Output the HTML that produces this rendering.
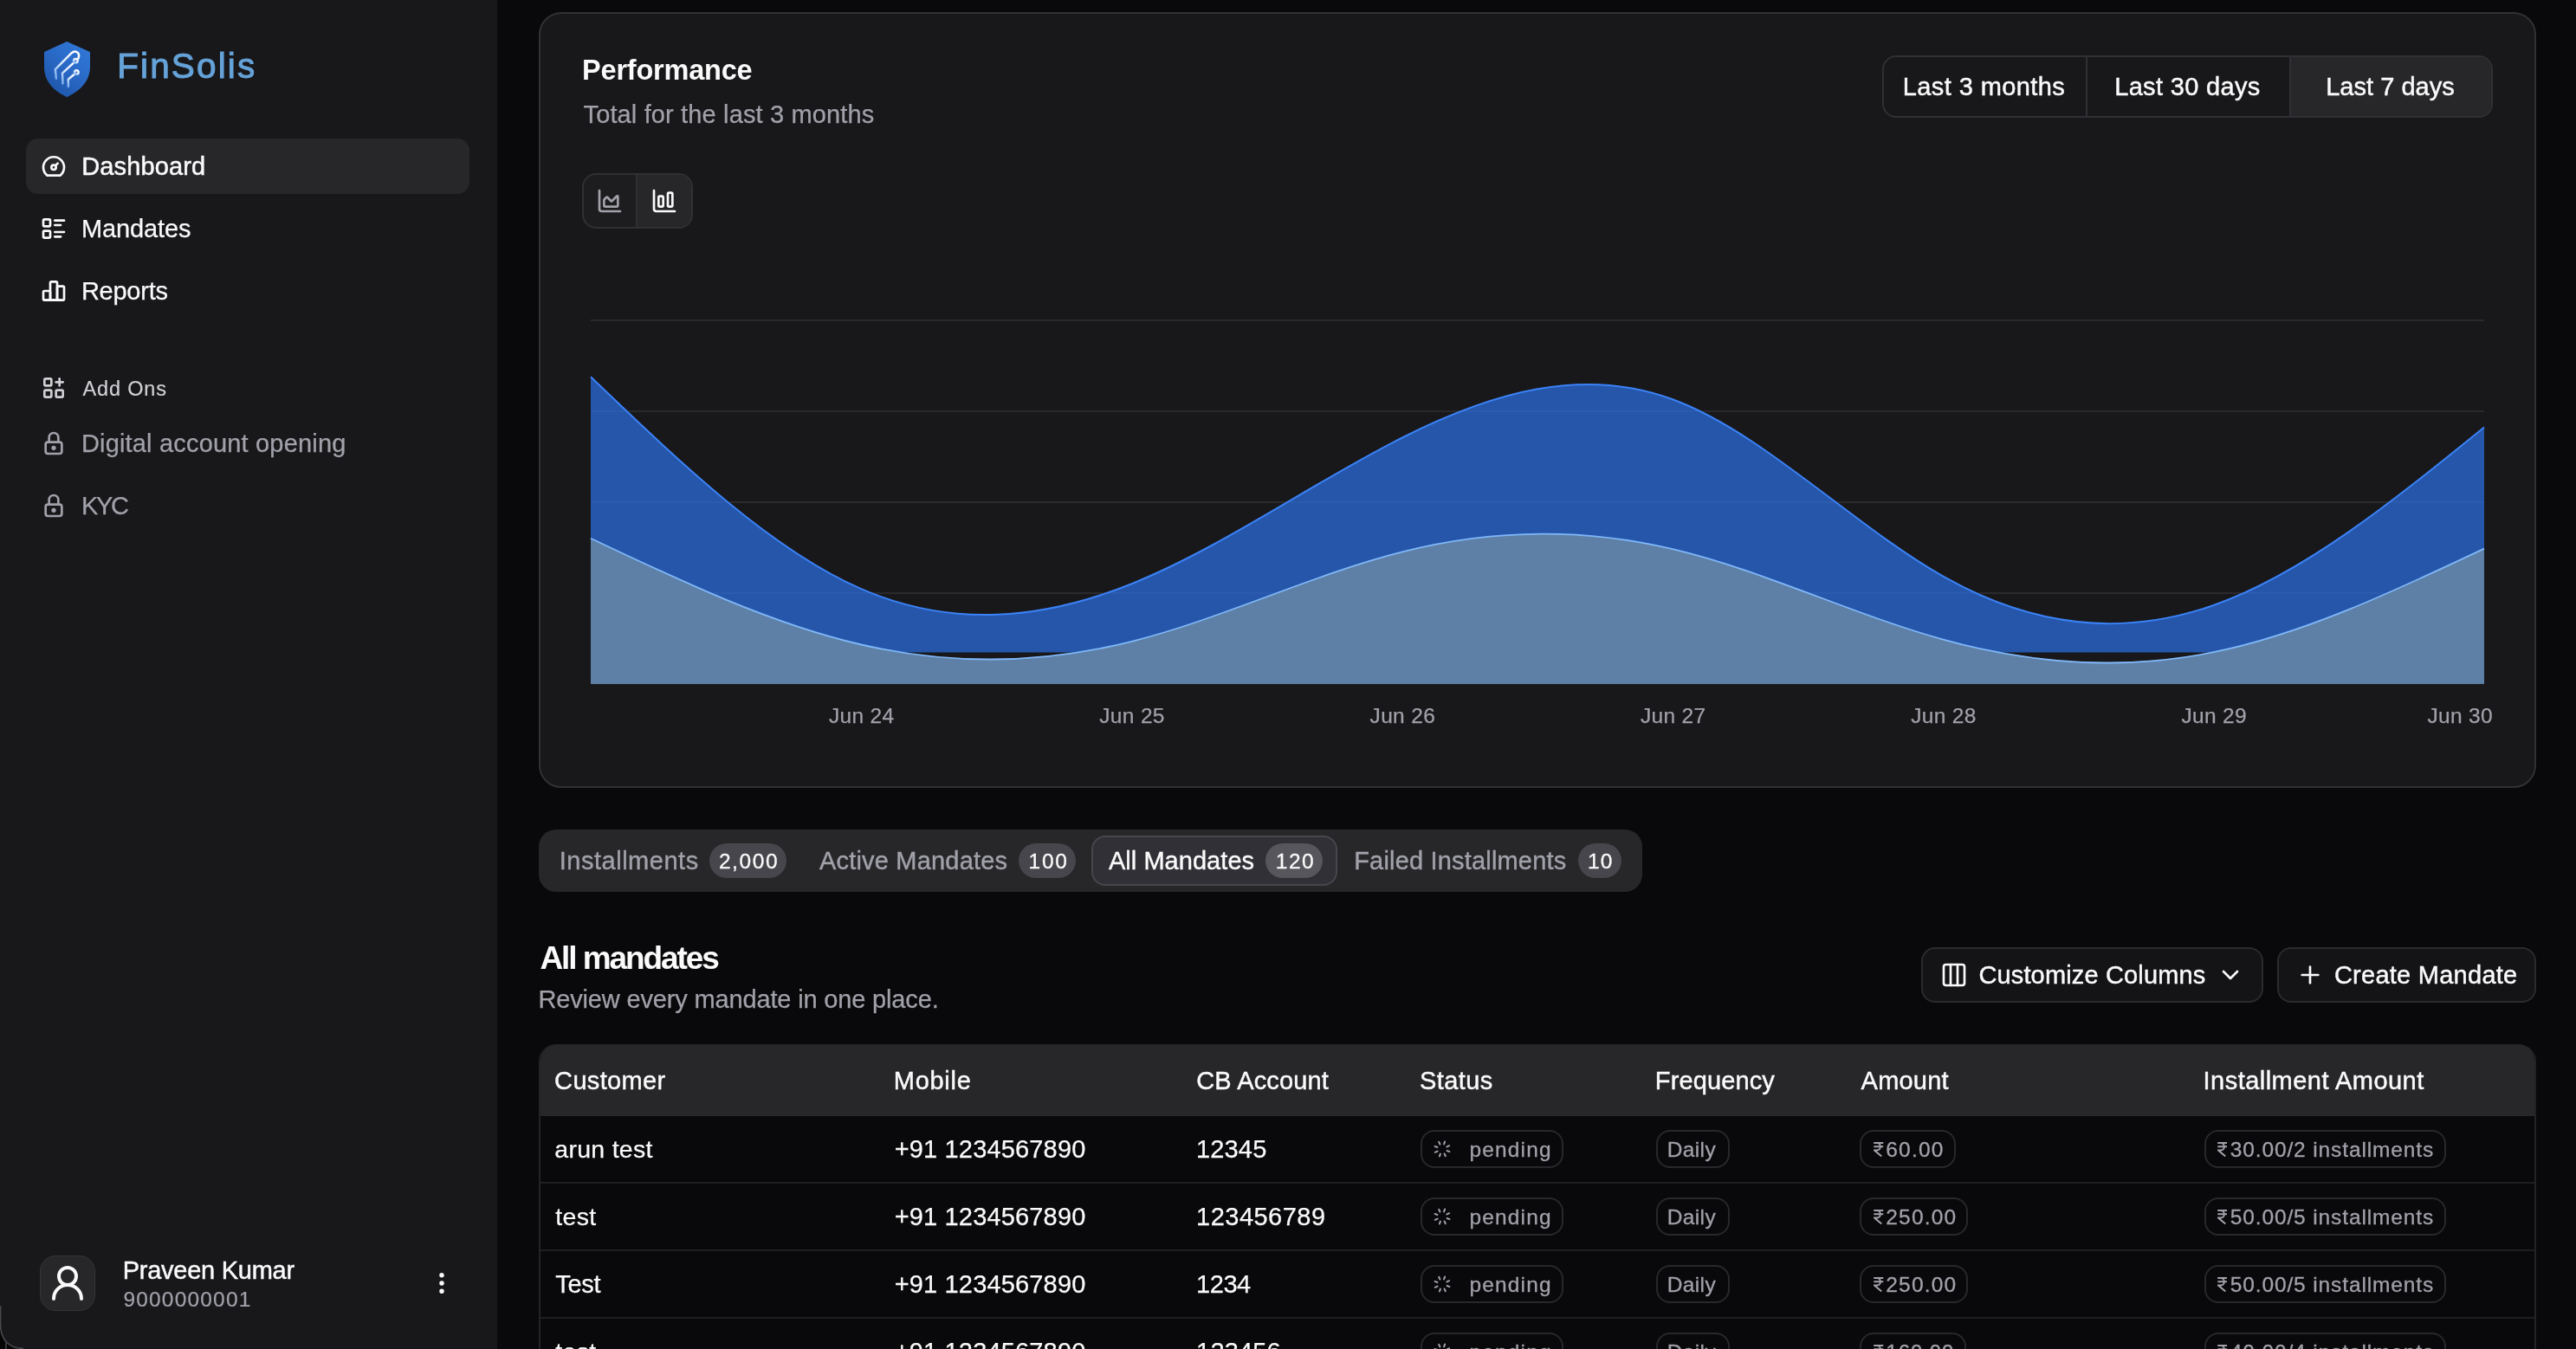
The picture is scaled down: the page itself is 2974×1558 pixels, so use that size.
<!DOCTYPE html>
<html><head><meta charset="utf-8"><title>FinSolis Dashboard</title>
<style>
html,body{margin:0;padding:0;background:#09090b;}
body{width:2974px;height:1558px;overflow:hidden;position:relative;font-family:"Liberation Sans",sans-serif;}
#root{position:absolute;left:0;top:0;width:2974px;height:1558px;will-change:transform;}
.abs{position:absolute;}
.t{position:absolute;white-space:nowrap;line-height:1;}
.pill{border-radius:16px;box-sizing:border-box;border:2px solid #28282c;background:#09090b;}
</style></head><body>
<div id="root">
<div class="abs" style="left:0;top:0;width:574px;height:1558px;background:#18181b"></div>
<svg class="abs" style="left:48px;top:44px" width="60" height="72" viewBox="0 0 60 72">
<defs><linearGradient id="lg" x1="0.9" y1="0" x2="0.2" y2="1"><stop offset="0" stop-color="#3179d8"/><stop offset="0.45" stop-color="#2a6bc9"/><stop offset="1" stop-color="#1d54a6"/></linearGradient>
<linearGradient id="lw" x1="0.9" y1="0" x2="0.1" y2="1"><stop offset="0" stop-color="#ffffff"/><stop offset="0.6" stop-color="#d6e6fa"/><stop offset="1" stop-color="#7fb0ee"/></linearGradient></defs>
<path d="M29.2 4 L56 16 L56 33 C56 50 44 61 29.2 68.2 C14 61 3 50 3 33 L3 16 Z" fill="url(#lg)"/>
<g fill="none" stroke="url(#lw)" stroke-width="2.5" stroke-linecap="round" stroke-linejoin="round">
<path d="M16.9 46.6 L15.8 36.1 L34.4 17.4 C38 14 43.4 15.5 43.1 20.9 L42.4 23.6"/>
<path d="M24.5 52.4 L23.9 40.7 L37.2 28.4"/>
<path d="M30.9 55.9 L30.7 47.7 L38.4 41.2"/>
<circle cx="39.3" cy="26.2" r="2.3"/><circle cx="40.3" cy="39.5" r="2.3"/>
</g></svg>
<div class="t" style="left:135.2px;top:56px;font-size:40.5px;color:#65a2d8;font-weight:400;letter-spacing:2.13px;-webkit-text-stroke:1.0px #65a2d8;">FinSolis</div>
<div class="abs" style="left:30px;top:160px;width:512px;height:64px;border-radius:14px;background:#27272a"></div>
<svg class="abs" style="left:46px;top:176px" width="32" height="32" viewBox="0 0 24 24" fill="none" stroke="#fafafa" stroke-width="2" stroke-linecap="round" stroke-linejoin="round"><path d="M12 13m-2 0a2 2 0 1 0 4 0a2 2 0 1 0 -4 0"/><path d="M13.45 11.55l2.05 -2.05"/><path d="M6.4 20a9 9 0 1 1 11.2 0z"/></svg>
<div class="t" style="left:94.2px;top:178px;font-size:29px;color:#fafafa;font-weight:400;letter-spacing:0.14px;-webkit-text-stroke:0.5px #fafafa;">Dashboard</div>
<svg class="abs" style="left:46px;top:248px" width="32" height="32" viewBox="0 0 24 24" fill="none" stroke="#fafafa" stroke-width="2" stroke-linecap="round" stroke-linejoin="round"><path d="M13 5h8"/><path d="M13 9h5"/><path d="M13 15h8"/><path d="M13 19h5"/><path d="M3 5a1 1 0 0 1 1 -1h4a1 1 0 0 1 1 1v4a1 1 0 0 1 -1 1h-4a1 1 0 0 1 -1 -1z"/><path d="M3 15a1 1 0 0 1 1 -1h4a1 1 0 0 1 1 1v4a1 1 0 0 1 -1 1h-4a1 1 0 0 1 -1 -1z"/></svg>
<div class="t" style="left:93.9px;top:250px;font-size:29px;color:#fafafa;font-weight:400;letter-spacing:-0.12px;-webkit-text-stroke:0.25px #fafafa;">Mandates</div>
<svg class="abs" style="left:46px;top:320px" width="32" height="32" viewBox="0 0 24 24" fill="none" stroke="#fafafa" stroke-width="2" stroke-linecap="round" stroke-linejoin="round"><path d="M3 13a1 1 0 0 1 1 -1h4a1 1 0 0 1 1 1v6a1 1 0 0 1 -1 1h-4a1 1 0 0 1 -1 -1z"/><path d="M15 9a1 1 0 0 1 1 -1h4a1 1 0 0 1 1 1v10a1 1 0 0 1 -1 1h-4a1 1 0 0 1 -1 -1z"/><path d="M9 5a1 1 0 0 1 1 -1h4a1 1 0 0 1 1 1v14a1 1 0 0 1 -1 1h-4a1 1 0 0 1 -1 -1z"/><path d="M4 20h14"/></svg>
<div class="t" style="left:93.9px;top:322px;font-size:29px;color:#fafafa;font-weight:400;letter-spacing:-0.25px;-webkit-text-stroke:0.25px #fafafa;">Reports</div>
<svg class="abs" style="left:46px;top:432px" width="32" height="32" viewBox="0 0 24 24" fill="none" stroke="#d0d0d4" stroke-width="2" stroke-linecap="round" stroke-linejoin="round"><path d="M4 5a1 1 0 0 1 1 -1h4a1 1 0 0 1 1 1v4a1 1 0 0 1 -1 1h-4a1 1 0 0 1 -1 -1z"/><path d="M4 15a1 1 0 0 1 1 -1h4a1 1 0 0 1 1 1v4a1 1 0 0 1 -1 1h-4a1 1 0 0 1 -1 -1z"/><path d="M14 15a1 1 0 0 1 1 -1h4a1 1 0 0 1 1 1v4a1 1 0 0 1 -1 1h-4a1 1 0 0 1 -1 -1z"/><path d="M14 7l6 0"/><path d="M17 4l0 6"/></svg>
<div class="t" style="left:95.6px;top:438px;font-size:23.5px;color:#d0d0d4;font-weight:400;letter-spacing:0.83px;-webkit-text-stroke:0.2px #d0d0d4;">Add Ons</div>
<svg class="abs" style="left:46px;top:495.5px" width="32" height="32" viewBox="0 0 24 24" fill="none" stroke="#a1a1aa" stroke-width="2" stroke-linecap="round" stroke-linejoin="round"><path d="M5 13a2 2 0 0 1 2 -2h10a2 2 0 0 1 2 2v6a2 2 0 0 1 -2 2h-10a2 2 0 0 1 -2 -2v-6z"/><path d="M11 16a1 1 0 1 0 2 0a1 1 0 0 0 -2 0"/><path d="M8 11v-4a4 4 0 1 1 8 0v4"/></svg>
<div class="t" style="left:93.9px;top:498px;font-size:29px;color:#a1a1aa;font-weight:400;letter-spacing:0.18px;-webkit-text-stroke:0.25px #a1a1aa;">Digital account opening</div>
<svg class="abs" style="left:46px;top:567.5px" width="32" height="32" viewBox="0 0 24 24" fill="none" stroke="#a1a1aa" stroke-width="2" stroke-linecap="round" stroke-linejoin="round"><path d="M5 13a2 2 0 0 1 2 -2h10a2 2 0 0 1 2 2v6a2 2 0 0 1 -2 2h-10a2 2 0 0 1 -2 -2v-6z"/><path d="M11 16a1 1 0 1 0 2 0a1 1 0 0 0 -2 0"/><path d="M8 11v-4a4 4 0 1 1 8 0v4"/></svg>
<div class="t" style="left:93.9px;top:570px;font-size:29px;color:#a1a1aa;font-weight:400;letter-spacing:-2.27px;-webkit-text-stroke:0.25px #a1a1aa;">KYC</div>
<div class="abs" style="left:46px;top:1450px;width:64px;height:64px;border-radius:18px;background:#27272a;box-sizing:border-box;border:1.5px solid #34343a"></div>
<svg class="abs" style="left:54px;top:1458px" width="48" height="48" viewBox="0 0 24 24" fill="none" stroke="#fafafa" stroke-width="2" stroke-linecap="round" stroke-linejoin="round"><circle cx="12" cy="8" r="5"/><path d="M20 21a8 8 0 0 0-16 0"/></svg>
<div class="t" style="left:141.7px;top:1453px;font-size:29px;color:#fafafa;font-weight:400;letter-spacing:-0.26px;-webkit-text-stroke:0.45px #fafafa;">Praveen Kumar</div>
<div class="t" style="left:142.4px;top:1489px;font-size:24.5px;color:#a1a1aa;font-weight:400;letter-spacing:1.19px;-webkit-text-stroke:0.2px #a1a1aa;">9000000001</div>
<svg class="abs" style="left:494px;top:1466px" width="32" height="32" viewBox="0 0 24 24" fill="none" stroke="#fafafa" stroke-width="2.1" stroke-linecap="round" stroke-linejoin="round"><path d="M12 12m-1 0a1 1 0 1 0 2 0a1 1 0 1 0 -2 0"/><path d="M12 19m-1 0a1 1 0 1 0 2 0a1 1 0 1 0 -2 0"/><path d="M12 5m-1 0a1 1 0 1 0 2 0a1 1 0 1 0 -2 0"/></svg>
<div class="abs" style="left:622px;top:14px;width:2306px;height:896px;border-radius:26px;background:#18181b;box-sizing:border-box;border:2px solid #313135"></div>
<div class="t" style="left:672.1px;top:65px;font-size:32.5px;color:#fafafa;font-weight:700;letter-spacing:-0.21px;">Performance</div>
<div class="t" style="left:673.5px;top:118px;font-size:29px;color:#a1a1aa;font-weight:400;letter-spacing:0.14px;-webkit-text-stroke:0.25px #a1a1aa;">Total for the last 3 months</div>
<div class="abs" style="left:672px;top:200px;width:128px;height:64px;border-radius:16px;box-sizing:border-box;border:2px solid #303034;background:#1d1d20;overflow:hidden"><div style="position:absolute;left:60px;top:0;width:2px;height:64px;background:#303034"></div><div style="position:absolute;left:62px;top:0;width:64px;height:64px;background:#27272a"></div></div>
<svg class="abs" style="left:688px;top:216px" width="32" height="32" viewBox="0 0 24 24" fill="none" stroke="#a1a1aa" stroke-width="2" stroke-linecap="round" stroke-linejoin="round"><path d="M3 3v16a2 2 0 0 0 2 2h16"/><path d="M7 11.207a.5.5 0 0 1 .146-.353l2-2a.5.5 0 0 1 .708 0l3.292 3.292a.5.5 0 0 0 .708 0l4.292-4.292a.5.5 0 0 1 .854.353V16a1 1 0 0 1-1 1H8a1 1 0 0 1-1-1z"/></svg>
<svg class="abs" style="left:751px;top:216px" width="32" height="32" viewBox="0 0 24 24" fill="none" stroke="#fafafa" stroke-width="2" stroke-linecap="round" stroke-linejoin="round"><path d="M3 3v16a2 2 0 0 0 2 2h16"/><rect x="15" y="5" width="4" height="12" rx="1"/><rect x="7" y="8" width="4" height="9" rx="1"/></svg>
<div class="abs" style="left:2173px;top:64px;width:705px;height:72px;border-radius:16px;box-sizing:border-box;border:2px solid #303034;background:#18181b;overflow:hidden"><div style="position:absolute;left:233px;top:0;width:2px;height:72px;background:#303034"></div><div style="position:absolute;left:468px;top:0;width:2px;height:72px;background:#303034"></div><div style="position:absolute;left:470px;top:0;width:235px;height:72px;background:#27272a"></div></div>
<div class="t" style="left:2196.8px;top:86px;font-size:29px;color:#fafafa;font-weight:400;letter-spacing:0.41px;-webkit-text-stroke:0.45px #fafafa;">Last 3 months</div>
<div class="t" style="left:2441.2px;top:86px;font-size:29px;color:#fafafa;font-weight:400;letter-spacing:0.33px;-webkit-text-stroke:0.45px #fafafa;">Last 30 days</div>
<div class="t" style="left:2685.2px;top:86px;font-size:29px;color:#fafafa;font-weight:400;letter-spacing:0.03px;-webkit-text-stroke:0.45px #fafafa;">Last 7 days</div>
<svg class="abs" style="left:0;top:0" width="2974" height="1558" viewBox="0 0 2974 1558">
<g stroke="#2a2a2e" stroke-width="2">
<line x1="682" x2="2868" y1="370" y2="370"/><line x1="682" x2="2868" y1="475" y2="475"/><line x1="682" x2="2868" y1="580" y2="580"/><line x1="682" x2="2868" y1="685" y2="685"/>
</g>
<path d="M682.0,435.3C786.1,535.1,890.2,634.9,994.3,680.1C1098.4,725.3,1202.5,716.1,1306.6,674.2C1410.7,632.3,1514.8,557.9,1618.9,505.5C1723.0,453.1,1827.0,422.9,1931.1,461.3C2035.2,499.7,2139.3,606.7,2243.4,665.7C2347.5,724.7,2451.6,735.7,2555.7,699.0C2659.8,662.3,2763.9,577.9,2868.0,493.5L2868,753.6L682,753.6Z" fill="#2556aa"/>
<clipPath id="ca"><path d="M682.0,435.3C786.1,535.1,890.2,634.9,994.3,680.1C1098.4,725.3,1202.5,716.1,1306.6,674.2C1410.7,632.3,1514.8,557.9,1618.9,505.5C1723.0,453.1,1827.0,422.9,1931.1,461.3C2035.2,499.7,2139.3,606.7,2243.4,665.7C2347.5,724.7,2451.6,735.7,2555.7,699.0C2659.8,662.3,2763.9,577.9,2868.0,493.5L2868,753.6L682,753.6Z"/></clipPath>
<g stroke="#3a66b4" stroke-width="1.5" opacity="0.55" clip-path="url(#ca)"><line x1="682" x2="2868" y1="475" y2="475"/><line x1="682" x2="2868" y1="580" y2="580"/><line x1="682" x2="2868" y1="685" y2="685"/></g>
<path d="M682.0,435.3C786.1,535.1,890.2,634.9,994.3,680.1C1098.4,725.3,1202.5,716.1,1306.6,674.2C1410.7,632.3,1514.8,557.9,1618.9,505.5C1723.0,453.1,1827.0,422.9,1931.1,461.3C2035.2,499.7,2139.3,606.7,2243.4,665.7C2347.5,724.7,2451.6,735.7,2555.7,699.0C2659.8,662.3,2763.9,577.9,2868.0,493.5" fill="none" stroke="#3b82f6" stroke-width="2"/>
<path d="M682.0,621.7C786.1,671.1,890.2,720.5,994.3,744.5C1098.4,768.5,1202.5,767.0,1306.6,740.8C1410.7,714.6,1514.8,663.7,1618.9,637.4C1723.0,611.1,1827.0,609.6,1931.1,634.2C2035.2,658.8,2139.3,709.7,2243.4,738.6C2347.5,767.5,2451.6,774.4,2555.7,753.2C2659.8,732.0,2763.9,682.8,2868.0,633.6L2868,790L682,790Z" fill="#5e80a7"/>
<path d="M682.0,621.7C786.1,671.1,890.2,720.5,994.3,744.5C1098.4,768.5,1202.5,767.0,1306.6,740.8C1410.7,714.6,1514.8,663.7,1618.9,637.4C1723.0,611.1,1827.0,609.6,1931.1,634.2C2035.2,658.8,2139.3,709.7,2243.4,738.6C2347.5,767.5,2451.6,774.4,2555.7,753.2C2659.8,732.0,2763.9,682.8,2868.0,633.6" fill="none" stroke="#80b8f9" stroke-width="1.8"/>
</svg>
<div class="t" style="left:957.0px;top:815px;font-size:24.5px;color:#a1a1aa;font-weight:400;letter-spacing:0.32px;-webkit-text-stroke:0.25px #a1a1aa;">Jun 24</div>
<div class="t" style="left:1269.3px;top:815px;font-size:24.5px;color:#a1a1aa;font-weight:400;letter-spacing:0.32px;-webkit-text-stroke:0.25px #a1a1aa;">Jun 25</div>
<div class="t" style="left:1581.6px;top:815px;font-size:24.5px;color:#a1a1aa;font-weight:400;letter-spacing:0.32px;-webkit-text-stroke:0.25px #a1a1aa;">Jun 26</div>
<div class="t" style="left:1893.9px;top:815px;font-size:24.5px;color:#a1a1aa;font-weight:400;letter-spacing:0.32px;-webkit-text-stroke:0.25px #a1a1aa;">Jun 27</div>
<div class="t" style="left:2206.2px;top:815px;font-size:24.5px;color:#a1a1aa;font-weight:400;letter-spacing:0.32px;-webkit-text-stroke:0.25px #a1a1aa;">Jun 28</div>
<div class="t" style="left:2518.4px;top:815px;font-size:24.5px;color:#a1a1aa;font-weight:400;letter-spacing:0.32px;-webkit-text-stroke:0.25px #a1a1aa;">Jun 29</div>
<div class="t" style="left:2802.4px;top:815px;font-size:24.5px;color:#a1a1aa;font-weight:400;letter-spacing:0.32px;-webkit-text-stroke:0.25px #a1a1aa;">Jun 30</div>
<div class="abs" style="left:622px;top:958px;width:1274px;height:71.5px;border-radius:20px;background:#27272a"></div>
<div class="abs" style="left:1260px;top:965px;width:284px;height:58px;border-radius:16px;background:#303036;box-sizing:border-box;border:2px solid #46464c"></div>
<div class="t" style="left:645.8px;top:980px;font-size:29px;color:#a1a1aa;font-weight:400;letter-spacing:0.51px;-webkit-text-stroke:0.4px #a1a1aa;">Installments</div>
<div class="abs" style="left:819px;top:974px;width:89px;height:40px;border-radius:20px;background:#46464c"></div><div class="t" style="left:829.9px;top:983px;font-size:24.5px;color:#fafafa;font-weight:400;letter-spacing:1.58px;-webkit-text-stroke:0.3px #fafafa;">2,000</div>
<div class="t" style="left:946.0px;top:980px;font-size:29px;color:#a1a1aa;font-weight:400;letter-spacing:0.19px;-webkit-text-stroke:0.4px #a1a1aa;">Active Mandates</div>
<div class="abs" style="left:1176px;top:974px;width:66px;height:40px;border-radius:20px;background:#46464c"></div><div class="t" style="left:1187.6px;top:983px;font-size:24.5px;color:#fafafa;font-weight:400;letter-spacing:1.72px;-webkit-text-stroke:0.3px #fafafa;">100</div>
<div class="t" style="left:1279.9px;top:980px;font-size:29px;color:#fafafa;font-weight:400;letter-spacing:0.05px;-webkit-text-stroke:0.4px #fafafa;">All Mandates</div>
<div class="abs" style="left:1461px;top:974px;width:66px;height:40px;border-radius:20px;background:#56565c"></div><div class="t" style="left:1472.8px;top:983px;font-size:24.5px;color:#fafafa;font-weight:400;letter-spacing:1.47px;-webkit-text-stroke:0.3px #fafafa;">120</div>
<div class="t" style="left:1563.2px;top:980px;font-size:29px;color:#a1a1aa;font-weight:400;letter-spacing:0.18px;-webkit-text-stroke:0.4px #a1a1aa;">Failed Installments</div>
<div class="abs" style="left:1822px;top:974px;width:50px;height:40px;border-radius:20px;background:#46464c"></div><div class="t" style="left:1833.0px;top:983px;font-size:24.5px;color:#fafafa;font-weight:400;letter-spacing:1.17px;-webkit-text-stroke:0.3px #fafafa;">10</div>
<div class="t" style="left:623.4px;top:1088px;font-size:37px;color:#fafafa;font-weight:700;letter-spacing:-2.08px;">All mandates</div>
<div class="t" style="left:621.5px;top:1140px;font-size:29px;color:#a1a1aa;font-weight:400;letter-spacing:-0.16px;-webkit-text-stroke:0.25px #a1a1aa;">Review every mandate in one place.</div>
<div class="abs" style="left:2218px;top:1094px;width:395px;height:64px;border-radius:16px;background:#141417;box-sizing:border-box;border:2px solid #2b2b2f"></div>
<svg class="abs" style="left:2240px;top:1110px" width="32" height="32" viewBox="0 0 24 24" fill="none" stroke="#fafafa" stroke-width="2" stroke-linecap="round" stroke-linejoin="round"><rect width="18" height="18" x="3" y="3" rx="2"/><path d="M9 3v18"/><path d="M15 3v18"/></svg>
<div class="t" style="left:2284.4px;top:1112px;font-size:29px;color:#fafafa;font-weight:400;letter-spacing:0.15px;-webkit-text-stroke:0.45px #fafafa;">Customize Columns</div>
<svg class="abs" style="left:2559px;top:1110px" width="32" height="32" viewBox="0 0 24 24" fill="none" stroke="#fafafa" stroke-width="2" stroke-linecap="round" stroke-linejoin="round"><path d="m6 9 6 6 6-6"/></svg>
<div class="abs" style="left:2629px;top:1094px;width:299px;height:64px;border-radius:16px;background:#141417;box-sizing:border-box;border:2px solid #2b2b2f"></div>
<svg class="abs" style="left:2651px;top:1110px" width="32" height="32" viewBox="0 0 24 24" fill="none" stroke="#fafafa" stroke-width="2" stroke-linecap="round" stroke-linejoin="round"><path d="M5 12h14"/><path d="M12 5v14"/></svg>
<div class="t" style="left:2694.9px;top:1112px;font-size:29px;color:#fafafa;font-weight:400;letter-spacing:0.26px;-webkit-text-stroke:0.45px #fafafa;">Create Mandate</div>
<div class="abs" style="left:622px;top:1206px;width:2306px;height:400px;border-radius:20px 20px 0 0;box-sizing:border-box;border:2px solid #232326;border-top:none;background:#09090b;overflow:hidden"><div style="position:absolute;left:-2px;top:0;width:2306px;height:83px;background:#27272a"></div><div style="position:absolute;left:0;top:159px;width:2306px;height:2px;background:#1f1f22"></div><div style="position:absolute;left:0;top:237px;width:2306px;height:2px;background:#1f1f22"></div><div style="position:absolute;left:0;top:315px;width:2306px;height:2px;background:#1f1f22"></div></div>
<div class="t" style="left:640.1px;top:1234px;font-size:29px;color:#fafafa;font-weight:400;letter-spacing:0.34px;-webkit-text-stroke:0.45px #fafafa;">Customer</div>
<div class="t" style="left:1031.8px;top:1234px;font-size:29px;color:#fafafa;font-weight:400;letter-spacing:0.71px;-webkit-text-stroke:0.45px #fafafa;">Mobile</div>
<div class="t" style="left:1381.2px;top:1234px;font-size:29px;color:#fafafa;font-weight:400;letter-spacing:0.12px;-webkit-text-stroke:0.45px #fafafa;">CB Account</div>
<div class="t" style="left:1639.0px;top:1234px;font-size:29px;color:#fafafa;font-weight:400;letter-spacing:0.39px;-webkit-text-stroke:0.45px #fafafa;">Status</div>
<div class="t" style="left:1910.8px;top:1234px;font-size:29px;color:#fafafa;font-weight:400;letter-spacing:0.13px;-webkit-text-stroke:0.45px #fafafa;">Frequency</div>
<div class="t" style="left:2148.6px;top:1234px;font-size:29px;color:#fafafa;font-weight:400;letter-spacing:0.21px;-webkit-text-stroke:0.45px #fafafa;">Amount</div>
<div class="t" style="left:2543.5px;top:1234px;font-size:29px;color:#fafafa;font-weight:400;letter-spacing:0.48px;-webkit-text-stroke:0.45px #fafafa;">Installment Amount</div>
<div class="t" style="left:640.3px;top:1313px;font-size:28.5px;color:#fafafa;font-weight:400;letter-spacing:0.28px;-webkit-text-stroke:0.25px #fafafa;">arun test</div>
<div class="t" style="left:1032.7px;top:1313px;font-size:29px;color:#fafafa;font-weight:400;letter-spacing:0.16px;-webkit-text-stroke:0.25px #fafafa;">+91 1234567890</div>
<div class="t" style="left:1381.1px;top:1313px;font-size:29px;color:#fafafa;font-weight:400;letter-spacing:0.13px;-webkit-text-stroke:0.25px #fafafa;">12345</div>
<div class="abs pill" style="left:1639.5px;top:1304.5px;width:165.5px;height:44.5px"></div>
<div class="abs" style="left:1653px;top:1315px;width:24px;height:24px;transform:rotate(20deg)"><svg class="abs" style="left:0px;top:0px" width="24" height="24" viewBox="0 0 24 24" fill="none" stroke="#a1a1aa" stroke-width="2" stroke-linecap="round" stroke-linejoin="round"><path d="M12 6l0 -3"/><path d="M16.25 7.75l2.15 -2.15"/><path d="M18 12l3 0"/><path d="M16.25 16.25l2.15 2.15"/><path d="M12 18l0 3"/><path d="M7.75 16.25l-2.15 2.15"/><path d="M6 12l-3 0"/><path d="M7.75 7.75l-2.15 -2.15"/></svg></div>
<div class="t" style="left:1696.6px;top:1316px;font-size:24.5px;color:#a1a1aa;font-weight:400;letter-spacing:1.12px;-webkit-text-stroke:0.3px #a1a1aa;">pending</div>
<div class="abs pill" style="left:1911.5px;top:1304.5px;width:85px;height:44.5px"></div>
<div class="t" style="left:1924.8px;top:1316px;font-size:24.5px;color:#a1a1aa;font-weight:400;letter-spacing:0.35px;-webkit-text-stroke:0.3px #a1a1aa;">Daily</div>
<div class="abs pill" style="left:2147px;top:1304.5px;width:110.59999999999991px;height:44.5px"></div>
<svg class="abs" style="left:2163px;top:1319.4px" width="11.6" height="16.8" viewBox="0 0 70 100" preserveAspectRatio="none" fill="none" stroke="#a1a1aa" stroke-width="12" stroke-linejoin="miter"><path d="M2 6H68"/><path d="M2 31H68"/><path d="M4 6H24C55 6 55 57 24 57H7L56 98"/></svg>
<div class="t" style="left:2177.2px;top:1316px;font-size:24.5px;color:#a1a1aa;font-weight:400;letter-spacing:1.25px;-webkit-text-stroke:0.3px #a1a1aa;">60.00</div>
<div class="abs pill" style="left:2545px;top:1304.5px;width:278.5px;height:44.5px"></div>
<svg class="abs" style="left:2559.5px;top:1319.4px" width="11.6" height="16.8" viewBox="0 0 70 100" preserveAspectRatio="none" fill="none" stroke="#a1a1aa" stroke-width="12" stroke-linejoin="miter"><path d="M2 6H68"/><path d="M2 31H68"/><path d="M4 6H24C55 6 55 57 24 57H7L56 98"/></svg>
<div class="t" style="left:2574.7px;top:1316px;font-size:24.5px;color:#a1a1aa;font-weight:400;letter-spacing:0.88px;-webkit-text-stroke:0.3px #a1a1aa;">30.00/2 installments</div>
<div class="t" style="left:641.3px;top:1391px;font-size:28.5px;color:#fafafa;font-weight:400;letter-spacing:0.31px;-webkit-text-stroke:0.25px #fafafa;">test</div>
<div class="t" style="left:1032.7px;top:1391px;font-size:29px;color:#fafafa;font-weight:400;letter-spacing:0.16px;-webkit-text-stroke:0.25px #fafafa;">+91 1234567890</div>
<div class="t" style="left:1381.1px;top:1391px;font-size:29px;color:#fafafa;font-weight:400;letter-spacing:0.47px;-webkit-text-stroke:0.25px #fafafa;">123456789</div>
<div class="abs pill" style="left:1639.5px;top:1382.5px;width:165.5px;height:44.5px"></div>
<div class="abs" style="left:1653px;top:1393px;width:24px;height:24px;transform:rotate(20deg)"><svg class="abs" style="left:0px;top:0px" width="24" height="24" viewBox="0 0 24 24" fill="none" stroke="#a1a1aa" stroke-width="2" stroke-linecap="round" stroke-linejoin="round"><path d="M12 6l0 -3"/><path d="M16.25 7.75l2.15 -2.15"/><path d="M18 12l3 0"/><path d="M16.25 16.25l2.15 2.15"/><path d="M12 18l0 3"/><path d="M7.75 16.25l-2.15 2.15"/><path d="M6 12l-3 0"/><path d="M7.75 7.75l-2.15 -2.15"/></svg></div>
<div class="t" style="left:1696.6px;top:1394px;font-size:24.5px;color:#a1a1aa;font-weight:400;letter-spacing:1.12px;-webkit-text-stroke:0.3px #a1a1aa;">pending</div>
<div class="abs pill" style="left:1911.5px;top:1382.5px;width:85px;height:44.5px"></div>
<div class="t" style="left:1924.8px;top:1394px;font-size:24.5px;color:#a1a1aa;font-weight:400;letter-spacing:0.35px;-webkit-text-stroke:0.3px #a1a1aa;">Daily</div>
<div class="abs pill" style="left:2147px;top:1382.5px;width:125.30000000000018px;height:44.5px"></div>
<svg class="abs" style="left:2163px;top:1397.4px" width="11.6" height="16.8" viewBox="0 0 70 100" preserveAspectRatio="none" fill="none" stroke="#a1a1aa" stroke-width="12" stroke-linejoin="miter"><path d="M2 6H68"/><path d="M2 31H68"/><path d="M4 6H24C55 6 55 57 24 57H7L56 98"/></svg>
<div class="t" style="left:2177.2px;top:1394px;font-size:24.5px;color:#a1a1aa;font-weight:400;letter-spacing:1.22px;-webkit-text-stroke:0.3px #a1a1aa;">250.00</div>
<div class="abs pill" style="left:2545px;top:1382.5px;width:278.5px;height:44.5px"></div>
<svg class="abs" style="left:2559.5px;top:1397.4px" width="11.6" height="16.8" viewBox="0 0 70 100" preserveAspectRatio="none" fill="none" stroke="#a1a1aa" stroke-width="12" stroke-linejoin="miter"><path d="M2 6H68"/><path d="M2 31H68"/><path d="M4 6H24C55 6 55 57 24 57H7L56 98"/></svg>
<div class="t" style="left:2574.7px;top:1394px;font-size:24.5px;color:#a1a1aa;font-weight:400;letter-spacing:0.88px;-webkit-text-stroke:0.3px #a1a1aa;">50.00/5 installments</div>
<div class="t" style="left:641.3px;top:1469px;font-size:29px;color:#fafafa;font-weight:400;letter-spacing:-0.33px;-webkit-text-stroke:0.25px #fafafa;">Test</div>
<div class="t" style="left:1032.7px;top:1469px;font-size:29px;color:#fafafa;font-weight:400;letter-spacing:0.16px;-webkit-text-stroke:0.25px #fafafa;">+91 1234567890</div>
<div class="t" style="left:1381.1px;top:1469px;font-size:29px;color:#fafafa;font-weight:400;letter-spacing:-0.48px;-webkit-text-stroke:0.25px #fafafa;">1234</div>
<div class="abs pill" style="left:1639.5px;top:1460.5px;width:165.5px;height:44.5px"></div>
<div class="abs" style="left:1653px;top:1471px;width:24px;height:24px;transform:rotate(20deg)"><svg class="abs" style="left:0px;top:0px" width="24" height="24" viewBox="0 0 24 24" fill="none" stroke="#a1a1aa" stroke-width="2" stroke-linecap="round" stroke-linejoin="round"><path d="M12 6l0 -3"/><path d="M16.25 7.75l2.15 -2.15"/><path d="M18 12l3 0"/><path d="M16.25 16.25l2.15 2.15"/><path d="M12 18l0 3"/><path d="M7.75 16.25l-2.15 2.15"/><path d="M6 12l-3 0"/><path d="M7.75 7.75l-2.15 -2.15"/></svg></div>
<div class="t" style="left:1696.6px;top:1472px;font-size:24.5px;color:#a1a1aa;font-weight:400;letter-spacing:1.12px;-webkit-text-stroke:0.3px #a1a1aa;">pending</div>
<div class="abs pill" style="left:1911.5px;top:1460.5px;width:85px;height:44.5px"></div>
<div class="t" style="left:1924.8px;top:1472px;font-size:24.5px;color:#a1a1aa;font-weight:400;letter-spacing:0.35px;-webkit-text-stroke:0.3px #a1a1aa;">Daily</div>
<div class="abs pill" style="left:2147px;top:1460.5px;width:125.30000000000018px;height:44.5px"></div>
<svg class="abs" style="left:2163px;top:1475.4px" width="11.6" height="16.8" viewBox="0 0 70 100" preserveAspectRatio="none" fill="none" stroke="#a1a1aa" stroke-width="12" stroke-linejoin="miter"><path d="M2 6H68"/><path d="M2 31H68"/><path d="M4 6H24C55 6 55 57 24 57H7L56 98"/></svg>
<div class="t" style="left:2177.2px;top:1472px;font-size:24.5px;color:#a1a1aa;font-weight:400;letter-spacing:1.22px;-webkit-text-stroke:0.3px #a1a1aa;">250.00</div>
<div class="abs pill" style="left:2545px;top:1460.5px;width:278.5px;height:44.5px"></div>
<svg class="abs" style="left:2559.5px;top:1475.4px" width="11.6" height="16.8" viewBox="0 0 70 100" preserveAspectRatio="none" fill="none" stroke="#a1a1aa" stroke-width="12" stroke-linejoin="miter"><path d="M2 6H68"/><path d="M2 31H68"/><path d="M4 6H24C55 6 55 57 24 57H7L56 98"/></svg>
<div class="t" style="left:2574.7px;top:1472px;font-size:24.5px;color:#a1a1aa;font-weight:400;letter-spacing:0.88px;-webkit-text-stroke:0.3px #a1a1aa;">50.00/5 installments</div>
<div class="t" style="left:641.3px;top:1547px;font-size:28.5px;color:#fafafa;font-weight:400;letter-spacing:0.31px;-webkit-text-stroke:0.25px #fafafa;">test</div>
<div class="t" style="left:1032.7px;top:1547px;font-size:29px;color:#fafafa;font-weight:400;letter-spacing:0.16px;-webkit-text-stroke:0.25px #fafafa;">+91 1234567890</div>
<div class="t" style="left:1381.1px;top:1547px;font-size:29px;color:#fafafa;font-weight:400;letter-spacing:0.16px;-webkit-text-stroke:0.25px #fafafa;">123456</div>
<div class="abs pill" style="left:1639.5px;top:1538.5px;width:165.5px;height:44.5px"></div>
<div class="abs" style="left:1653px;top:1549px;width:24px;height:24px;transform:rotate(20deg)"><svg class="abs" style="left:0px;top:0px" width="24" height="24" viewBox="0 0 24 24" fill="none" stroke="#a1a1aa" stroke-width="2" stroke-linecap="round" stroke-linejoin="round"><path d="M12 6l0 -3"/><path d="M16.25 7.75l2.15 -2.15"/><path d="M18 12l3 0"/><path d="M16.25 16.25l2.15 2.15"/><path d="M12 18l0 3"/><path d="M7.75 16.25l-2.15 2.15"/><path d="M6 12l-3 0"/><path d="M7.75 7.75l-2.15 -2.15"/></svg></div>
<div class="t" style="left:1696.6px;top:1550px;font-size:24.5px;color:#a1a1aa;font-weight:400;letter-spacing:1.12px;-webkit-text-stroke:0.3px #a1a1aa;">pending</div>
<div class="abs pill" style="left:1911.5px;top:1538.5px;width:85px;height:44.5px"></div>
<div class="t" style="left:1924.8px;top:1550px;font-size:24.5px;color:#a1a1aa;font-weight:400;letter-spacing:0.35px;-webkit-text-stroke:0.3px #a1a1aa;">Daily</div>
<div class="abs pill" style="left:2147px;top:1538.5px;width:122.5px;height:44.5px"></div>
<svg class="abs" style="left:2163px;top:1553.4px" width="11.6" height="16.8" viewBox="0 0 70 100" preserveAspectRatio="none" fill="none" stroke="#a1a1aa" stroke-width="12" stroke-linejoin="miter"><path d="M2 6H68"/><path d="M2 31H68"/><path d="M4 6H24C55 6 55 57 24 57H7L56 98"/></svg>
<div class="t" style="left:2177.2px;top:1550px;font-size:24.5px;color:#a1a1aa;font-weight:400;letter-spacing:0.66px;-webkit-text-stroke:0.3px #a1a1aa;">160.00</div>
<div class="abs pill" style="left:2545px;top:1538.5px;width:278.5px;height:44.5px"></div>
<svg class="abs" style="left:2559.5px;top:1553.4px" width="11.6" height="16.8" viewBox="0 0 70 100" preserveAspectRatio="none" fill="none" stroke="#a1a1aa" stroke-width="12" stroke-linejoin="miter"><path d="M2 6H68"/><path d="M2 31H68"/><path d="M4 6H24C55 6 55 57 24 57H7L56 98"/></svg>
<div class="t" style="left:2574.7px;top:1550px;font-size:24.5px;color:#a1a1aa;font-weight:400;letter-spacing:0.88px;-webkit-text-stroke:0.3px #a1a1aa;">40.00/4 installments</div>
<svg class="abs" style="left:0;top:1508px" width="40" height="50" viewBox="0 0 40 50"><path d="M0 22C0 38 9 50 27 50H0Z" fill="#050506"/><path d="M0.6 0V22C0.6 38 9.5 49.4 27 49.4" fill="none" stroke="#47474b" stroke-width="1.6"/><rect x="6" y="41" width="1.8" height="9" fill="#3c3c40"/></svg>
</div>
</body></html>
